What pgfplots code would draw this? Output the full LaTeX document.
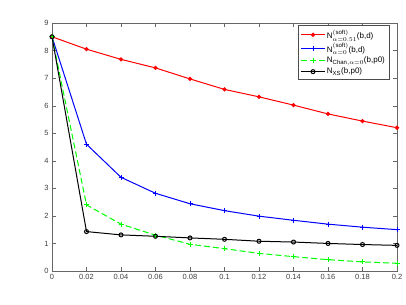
\documentclass[border=0pt]{standalone}
\usepackage{fontspec}
\setmainfont{Liberation Sans}
\usepackage{pgfplots}
\pgfplotsset{compat=1.18}
\begin{document}
\begin{tikzpicture}
\begin{axis}[
  scale only axis, width=345pt, height=248pt,
  xmin=0, xmax=0.2, ymin=0, ymax=9,
  xtick={0,0.02,...,0.2}, ytick={0,1,...,9},
  xticklabels={0,0.02,0.04,0.06,0.08,0.1,0.12,0.14,0.16,0.18,0.2},
  tick align=inside, tick pos=both,
  axis line style={draw=black!60}, major tick style={black!60},
  every tick label/.append style={font=\fontsize{7.5}{8}\selectfont, text=black!75},
  /pgf/number format/assume math mode=true,
  legend style={at={(0.977,0.99)}, anchor=north east, draw=black!70, fill=white,
    font=\fontsize{8}{9}\selectfont, row sep=0.5pt, inner sep=2.5pt,
    nodes={inner sep=1.5pt}},
  legend cell align=left,
  legend image code/.code={
    \draw[mark repeat=2,mark phase=2] plot coordinates {(0cm,0cm) (0.42cm,0cm) (0.84cm,0cm)};},
  every axis plot/.append style={line width=1pt},
]
\coordinate (sw) at (rel axis cs:0,0);
\coordinate (ne) at (rel axis cs:1,1);
\addplot[red, mark=*, mark size=1.6pt] coordinates {
(0,8.5)(0.02,8.05)(0.04,7.68)(0.06,7.37)(0.08,6.97)(0.1,6.59)(0.12,6.32)(0.14,6.02)(0.16,5.70)(0.18,5.44)(0.2,5.20)};
\addlegendentry{N$^{\mathrm{(soft)}}_{\alpha=0.51}$(b,d)}
\addplot[blue, mark=+, mark size=2.5pt] coordinates {
(0,8.5)(0.02,4.6)(0.04,3.4)(0.06,2.82)(0.08,2.44)(0.1,2.19)(0.12,1.99)(0.14,1.84)(0.16,1.70)(0.18,1.59)(0.2,1.50)};
\addlegendentry{N$^{\mathrm{(soft)}}_{\alpha=0}$(b,d)}
\addplot[green, dashed, dash pattern=on 6pt off 3pt, mark=+, mark size=2.5pt, mark options={solid}] coordinates {
(0,8.5)(0.02,2.4)(0.04,1.7)(0.06,1.3)(0.08,0.97)(0.1,0.81)(0.12,0.64)(0.14,0.52)(0.16,0.41)(0.18,0.33)(0.2,0.28)};
\addlegendentry{N$_{\mathrm{Chan},\alpha=0}$(b,p0)}
\addplot[black, mark=o, mark size=2pt] coordinates {
(0,8.5)(0.02,1.43)(0.04,1.31)(0.06,1.26)(0.08,1.2)(0.1,1.15)(0.12,1.08)(0.14,1.05)(0.16,1.00)(0.18,0.96)(0.2,0.93)};
\addlegendentry{N$_{\mathrm{XS}}$(b,p0)}
\end{axis}
\path ([xshift=-52pt,yshift=-34pt]sw) rectangle ([xshift=9pt,yshift=23pt]ne);
\end{tikzpicture}
\end{document}
